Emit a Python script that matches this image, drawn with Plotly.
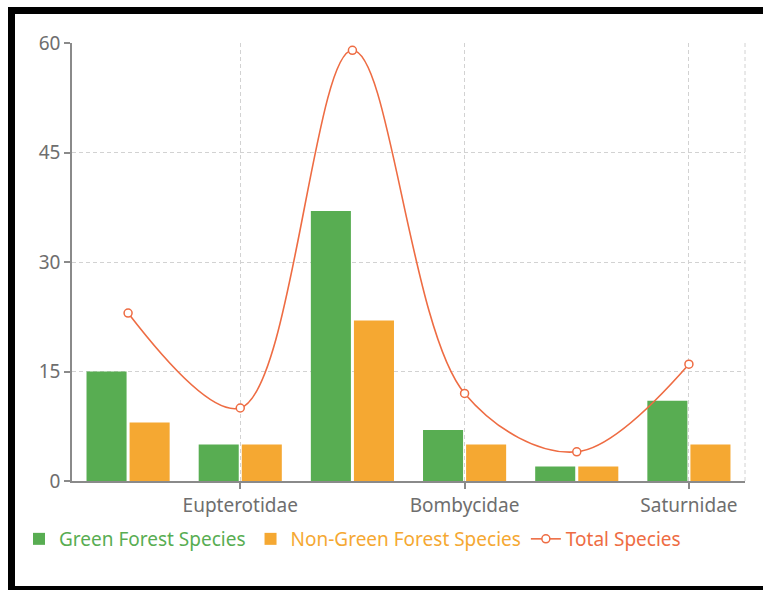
import plotly.graph_objects as go

# ---- data ----
categories = ["Lasiocampidae", "Eupterotidae", "Sphingidae", "Bombycidae", "Brahmaeidae", "Saturnidae"]
shown_ticks = ["Eupterotidae", "Bombycidae", "Saturnidae"]
green_forest = [15, 5, 37, 7, 2, 11]
non_green_forest = [8, 5, 22, 5, 2, 5]
total_species = [23, 10, 59, 12, 4, 16]
y_ticks = [0, 15, 30, 45, 60]

GREEN = "#58ad52"
ORANGE = "#f5a832"
RED = "#ee6c43"
FONT = "Noto Sans, Open Sans, sans-serif"

def colored(name, color):
    return f'<span style="color:{color}">{name}</span>'

fig = go.Figure()
fig.add_trace(go.Bar(x=categories, y=green_forest, name=colored("Green Forest Species", GREEN),
                     marker=dict(color=GREEN, line=dict(width=0))))
fig.add_trace(go.Bar(x=categories, y=non_green_forest, name=colored("Non-Green Forest Species", ORANGE),
                     marker=dict(color=ORANGE, line=dict(width=0))))
fig.add_trace(go.Scatter(x=categories, y=total_species, name=colored("Total Species", RED),
                         mode="lines+markers", line=dict(color=RED, width=1.6, shape="spline", smoothing=1.0),
                         marker=dict(symbol="circle", size=8, color="white", line=dict(color=RED, width=1.5))))

W, H = 763, 592
L, R, T, B = 72, 18, 43, 111
pw, ph = W - L - R, H - T - B

def px_x(x):
    return (x - L) / pw

def px_y(y):
    return (H - B - y) / ph

TICKFONT = dict(family=FONT, size=19, color="#6e6e6e")

def border_line(x0, y0, x1, y1, w):
    return dict(type="line", xref="paper", yref="paper",
                x0=px_x(x0), x1=px_x(x1), y0=px_y(y0), y1=px_y(y1),
                line=dict(color="black", width=w), layer="above")

fig.update_layout(
    width=W, height=H,
    margin=dict(l=L, r=R, t=T, b=B, pad=0),
    paper_bgcolor="white", plot_bgcolor="white",
    font=dict(family=FONT, size=19, color="#6e6e6e"),
    barmode="group", bargap=0.232, bargroupgap=0.07,
    showlegend=True,
    legend=dict(orientation="h", x=px_x(19), y=px_y(539), xanchor="left", yanchor="middle",
                font=dict(family=FONT, size=19), bgcolor="rgba(0,0,0,0)",
                itemclick=False, tracegroupgap=0),
    xaxis=dict(type="category", categoryorder="array", categoryarray=categories,
               range=[-0.5, len(categories) - 0.5],
               tickmode="array", tickvals=shown_ticks, ticktext=shown_ticks,
               showline=True, linecolor="#8a8a8a", linewidth=1.5,
               ticks="outside", ticklen=6, tickcolor="#8a8a8a", tickwidth=1.5,
               showgrid=True, gridcolor="#d2d2d2", gridwidth=1, griddash="4px,3px",
               zeroline=False, tickfont=TICKFONT),
    yaxis=dict(range=[0, 60], tickmode="array", tickvals=y_ticks,
               showline=True, linecolor="#8a8a8a", linewidth=1.5,
               ticks="outside", ticklen=6, tickcolor="#8a8a8a", tickwidth=1.5,
               showgrid=True, gridcolor="#d2d2d2", gridwidth=1, griddash="4px,3px",
               zeroline=False, tickfont=TICKFONT),
    shapes=[
        dict(type="line", xref="paper", yref="paper", x0=1, x1=1, y0=0, y1=1,
             line=dict(color="#d2d2d2", width=1, dash="4px,3px"), layer="below"),
        border_line(8, 10.5, 780, 10.5, 7),      # top
        border_line(11.5, 7, 11.5, 590, 7),      # left
        border_line(8, 588, 780, 588, 4),        # bottom
    ],
)

fig.write_html("out.html", config={"displayModeBar": False},
               post_script="document.body.style.margin='0';document.body.style.overflow='hidden';")
